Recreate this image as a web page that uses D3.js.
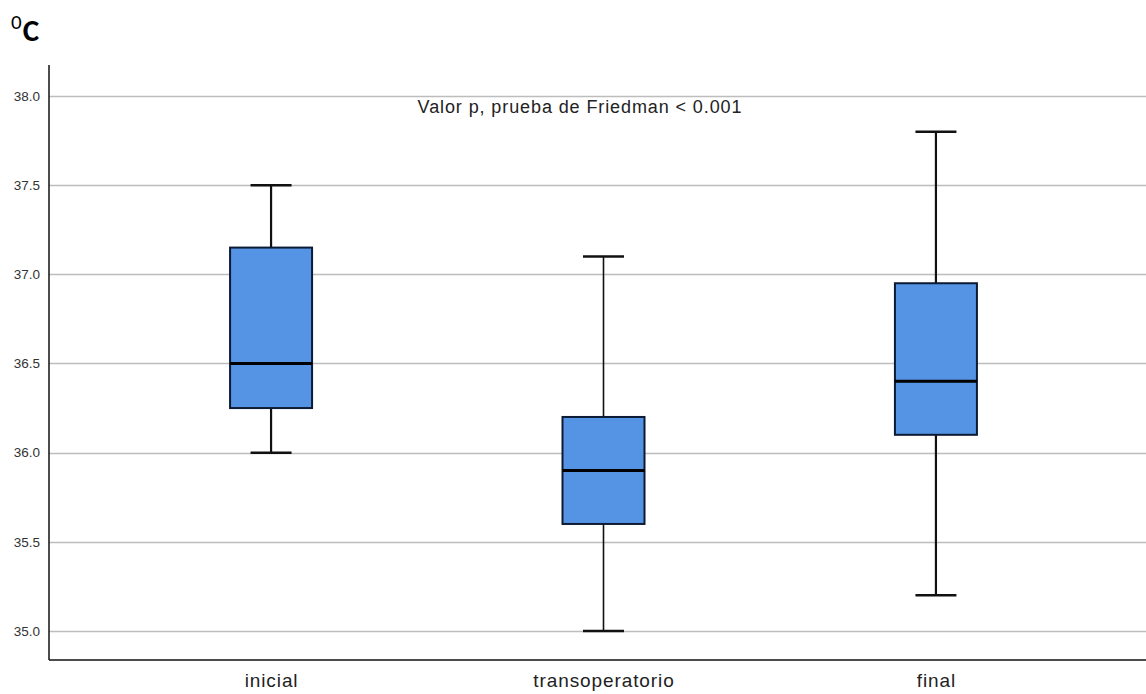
<!DOCTYPE html>
<html>
<head>
<meta charset="utf-8">
<script src="https://cdn.jsdelivr.net/npm/d3@7"></script>
<style>
  html, body { margin: 0; padding: 0; background: #fff; }
  svg { display: block; }
</style>
</head>
<body>
<svg id="chart" width="1146" height="694"></svg>
<script>
// Temperature (°C) at three surgical moments
const categories = ["inicial", "transoperatorio", "final"];
const whiskerLow  = [36.0, 35.0, 35.2];
const q1          = [36.25, 35.6, 36.1];
const medians     = [36.5, 35.9, 36.4];
const q3          = [37.15, 36.2, 36.95];
const whiskerHigh = [37.5, 37.1, 37.8];
const yTicks = [35.0, 35.5, 36.0, 36.5, 37.0, 37.5, 38.0];
const note = "Valor p, prueba de Friedman < 0.001";

(function draw() {
  const svg = d3.select("#chart");
  const W = 1146;
  const mLeft = 49, mBottom = 660, mTop = 65, mRight = W;
  const sans = "Arial, 'Liberation Sans', sans-serif";

  const y = d3.scaleLinear().domain([34.837, 38.174]).range([mBottom, mTop]);
  const x = d3.scalePoint().domain(categories).range([mLeft, 1158]).padding(0.668);

  // horizontal grid
  svg.append("g")
    .selectAll("line")
    .data(yTicks)
    .join("line")
    .attr("x1", mLeft).attr("x2", mRight)
    .attr("y1", d => Math.round(y(d)) + 0.5).attr("y2", d => Math.round(y(d)) + 0.5)
    .attr("stroke", "#bdbdbd").attr("stroke-width", 1.5);

  // y axis
  const yAxis = svg.append("g")
    .attr("transform", `translate(${mLeft},0)`)
    .call(d3.axisLeft(y).tickValues(yTicks).tickFormat(d3.format(".1f")).tickSize(0).tickPadding(9));
  yAxis.select(".domain").remove();
  yAxis.selectAll("text")
    .attr("font-family", sans)
    .attr("font-size", 13.5).attr("fill", "#333");

  // x axis
  const xAxis = svg.append("g")
    .attr("transform", `translate(0,${mBottom})`)
    .call(d3.axisBottom(x).tickSize(0).tickPadding(14));
  xAxis.select(".domain").remove();
  xAxis.selectAll("text")
    .attr("font-family", sans)
    .attr("font-size", 19).attr("letter-spacing", 0.9).attr("fill", "#222");

  // axis frame lines
  svg.append("line").attr("x1", mLeft).attr("x2", mLeft).attr("y1", mTop).attr("y2", mBottom)
    .attr("stroke", "#111").attr("stroke-width", 1.5);
  svg.append("line").attr("x1", mLeft).attr("x2", mRight).attr("y1", mBottom).attr("y2", mBottom)
    .attr("stroke", "#111").attr("stroke-width", 1.5);

  // boxes
  const boxW = 82, capW = 41;
  const data = categories.map((c, i) => ({
    c, lo: whiskerLow[i], q1: q1[i], med: medians[i], q3: q3[i], hi: whiskerHigh[i]
  }));

  const g = svg.append("g").selectAll("g").data(data).join("g");

  g.append("line")
    .attr("x1", d => x(d.c)).attr("x2", d => x(d.c))
    .attr("y1", d => y(d.hi)).attr("y2", d => y(d.q3))
    .attr("stroke", "#111").attr("stroke-width", (d, i) => i === 1 ? 1.6 : 2.2);
  g.append("line")
    .attr("x1", d => x(d.c)).attr("x2", d => x(d.c))
    .attr("y1", d => y(d.q1)).attr("y2", d => y(d.lo))
    .attr("stroke", "#111").attr("stroke-width", (d, i) => i === 1 ? 1.6 : 2.2);

  g.selectAll(".cap")
    .data(d => [{ c: d.c, v: d.hi }, { c: d.c, v: d.lo }])
    .join("line")
    .attr("x1", d => x(d.c) - capW / 2).attr("x2", d => x(d.c) + capW / 2)
    .attr("y1", d => y(d.v)).attr("y2", d => y(d.v))
    .attr("stroke", "#111").attr("stroke-width", 2.5);

  g.append("rect")
    .attr("x", d => x(d.c) - boxW / 2).attr("width", boxW)
    .attr("y", d => y(d.q3)).attr("height", d => y(d.q1) - y(d.q3))
    .attr("fill", "#5593e4").attr("stroke", "#0d1a33").attr("stroke-width", 2);

  g.append("line")
    .attr("x1", d => x(d.c) - boxW / 2).attr("x2", d => x(d.c) + boxW / 2)
    .attr("y1", d => y(d.med)).attr("y2", d => y(d.med))
    .attr("stroke", "#000").attr("stroke-width", 3);

  // annotation
  svg.append("text")
    .attr("x", 580).attr("y", 113)
    .attr("text-anchor", "middle")
    .attr("font-family", sans)
    .attr("font-size", 18).attr("letter-spacing", 0.9).attr("fill", "#222")
    .text(note);

  // unit label
  const unit = svg.append("text")
    .attr("x", 11).attr("y", 41)
    .attr("font-family", "Calibri, Carlito, 'Open Sans', 'Liberation Sans', Arial, sans-serif")
    .attr("fill", "#000");
  unit.append("tspan").attr("font-size", 21).attr("dy", -12).text("0");
  unit.append("tspan").attr("font-size", 31).attr("font-weight", "bold").attr("dx", 1).attr("dy", 12).text("C");
})();
</script>
</body>
</html>
